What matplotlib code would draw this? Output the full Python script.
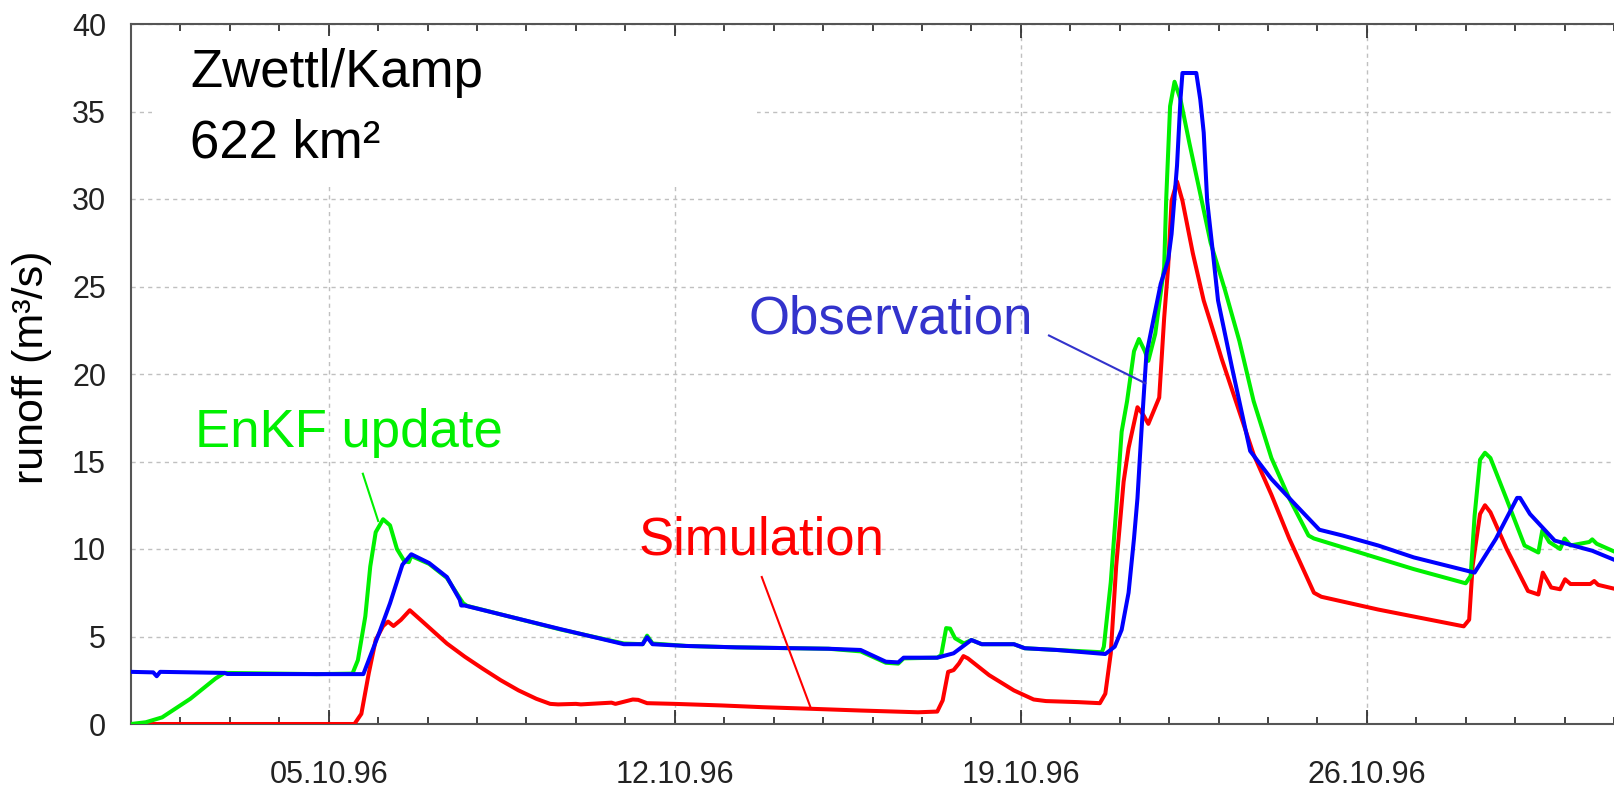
import matplotlib as mpl
import matplotlib.pyplot as plt
from matplotlib.patches import Rectangle
from matplotlib.ticker import FixedLocator, MultipleLocator

mpl.rcParams['font.family'] = ['Liberation Sans', 'DejaVu Sans']

# day of October 1996 (1.0 = 01.10.96 00:00), runoff in m3/s
obs_day = [1.0, 1.45, 1.52, 1.59, 2.89, 2.95, 4.76, 5.70, 6.02, 6.24, 6.49, 6.67, 7.03, 7.39,
           7.65, 7.68, 7.75, 9.69, 10.97, 11.35, 11.44, 11.55, 12.23, 13.24, 15.11, 15.76,
           16.27, 16.52, 16.63, 17.31, 17.64, 18.0, 18.21, 18.86, 19.08, 19.73, 20.71, 20.9,
           21.04, 21.18, 21.29, 21.36, 21.44, 21.54, 21.69, 21.83, 21.98, 22.05, 22.16, 22.23,
           22.27, 22.55, 22.63, 22.7, 22.77, 22.88, 22.99, 23.13, 23.27, 23.42, 23.64, 24.07,
           24.5, 25.04, 25.51, 26.23, 26.95, 28.18, 28.61, 29.04, 29.1, 29.3, 29.8, 30.56, 31.05]
obs_val = [2.98, 2.95, 2.73, 2.98, 2.92, 2.86, 2.85, 2.85, 5.2, 6.9, 9.1, 9.7, 9.2, 8.4,
           7.1, 6.77, 6.77, 5.42, 4.56, 4.56, 4.96, 4.56, 4.46, 4.38, 4.3, 4.23,
           3.56, 3.52, 3.79, 3.79, 4.04, 4.8, 4.56, 4.56, 4.33, 4.23, 4.0, 4.42,
           5.38, 7.5, 10.6, 12.9, 16.7, 21.1, 23.2, 25.15, 26.5, 28.0, 31.9, 35.7,
           37.2, 37.2, 35.7, 33.8, 29.9, 27.1, 24.2, 22.3, 20.4, 18.45, 15.6, 14.0,
           12.7, 11.1, 10.77, 10.2, 9.52, 8.65, 10.58, 12.92, 12.92, 12.0, 10.48, 9.9, 9.33]

enkf_day = [1.0, 1.3, 1.63, 2.2, 2.71, 2.89, 4.76, 5.48, 5.59, 5.74, 5.84, 5.95, 6.10, 6.24,
            6.38, 6.53, 6.62, 6.67, 7.03, 7.39, 7.65, 7.72, 7.8, 9.69, 10.97, 11.35, 11.44,
            11.55, 12.23, 13.24, 15.11, 15.76, 16.27, 16.52, 16.63, 17.31, 17.39, 17.49, 17.57,
            17.67, 17.85, 18.0, 18.21, 18.86, 19.08, 19.73, 20.64, 20.68, 20.82, 20.93, 21.04,
            21.15, 21.29, 21.39, 21.51, 21.58, 21.72, 21.9, 21.94, 22.02, 22.11, 22.23, 22.41,
            22.63, 22.84, 23.13, 23.42, 23.71, 24.07, 24.43, 24.82, 24.93, 26.95, 28.0, 28.1,
            28.18, 28.29, 28.39, 28.5, 28.82, 29.19, 29.47, 29.55, 29.69, 29.91, 30.0, 30.12,
            30.5, 30.56, 30.65, 31.05]
enkf_val = [0.0, 0.1, 0.38, 1.44, 2.6, 2.92, 2.85, 2.88, 3.65, 6.15, 9.0, 10.96, 11.7, 11.35,
            10.0, 9.3, 9.25, 9.6, 9.15, 8.35, 7.2, 6.9, 6.75, 5.4, 4.6, 4.56, 5.05,
            4.6, 4.46, 4.38, 4.3, 4.15, 3.5, 3.45, 3.75, 3.79, 3.94, 5.48, 5.45,
            4.9, 4.6, 4.8, 4.56, 4.56, 4.33, 4.23, 4.1, 4.42, 8.1, 12.3, 16.7,
            18.45, 21.3, 22.0, 21.3, 20.75, 22.3, 26.1, 29.9, 35.3, 36.7, 35.7, 33.2,
            30.3, 27.5, 24.8, 21.9, 18.45, 15.2, 12.9, 10.77, 10.6, 8.85, 8.04, 8.46,
            11.9, 15.1, 15.5, 15.2, 12.9, 10.2, 9.8, 11.06, 10.4, 10.0, 10.6, 10.2,
            10.4, 10.55, 10.3, 9.8]

sim_day = [1.0, 5.52, 5.66, 5.81, 5.95, 6.10, 6.2, 6.31, 6.46, 6.64, 6.89, 7.39, 7.75, 8.11,
           8.48, 8.84, 9.2, 9.48, 9.64, 10.0, 10.1, 10.72, 10.8, 11.15, 11.26, 11.44, 12.0,
           12.95, 13.78, 14.75, 15.76, 16.92, 17.31, 17.42, 17.53, 17.64, 17.75, 17.84, 17.93,
           18.36, 18.86, 19.26, 19.51, 20.16, 20.6, 20.71, 20.82, 20.93, 21.08, 21.18, 21.36,
           21.47, 21.58, 21.69, 21.8, 21.9, 21.98, 22.05, 22.16, 22.27, 22.48, 22.7, 22.91,
           23.06, 23.35, 23.71, 24.07, 24.43, 24.93, 25.08, 26.23, 27.96, 28.07, 28.14, 28.29,
           28.39, 28.5, 28.83, 29.26, 29.47, 29.56, 29.73, 29.91, 30.01, 30.12, 30.52, 30.6,
           30.68, 31.05]
sim_val = [0.0, 0.0, 0.58, 2.9, 4.8, 5.6, 5.85, 5.6, 5.95, 6.5, 5.87, 4.6, 3.85, 3.17,
           2.5, 1.92, 1.44, 1.15, 1.12, 1.15, 1.12, 1.22, 1.15, 1.4, 1.38, 1.19, 1.15,
           1.06, 0.96, 0.87, 0.77, 0.67, 0.71, 1.35, 2.98, 3.08, 3.46, 3.88, 3.75,
           2.79, 1.92, 1.4, 1.31, 1.25, 1.19, 1.73, 4.04, 9.04, 13.85, 15.77, 18.1,
           17.7, 17.15, 17.9, 18.65, 23.2, 26.1, 29.9, 31.0, 29.9, 26.9, 24.2, 22.3,
           20.9, 18.45, 15.4, 13.1, 10.6, 7.5, 7.27, 6.54, 5.58, 5.96, 9.04, 12.0,
           12.5, 12.1, 10.0, 7.6, 7.4, 8.65, 7.8, 7.7, 8.27, 8.0, 8.0, 8.17,
           7.95, 7.7]

date_ticks = [5, 12, 19, 26]
date_labels = ["05.10.96", "12.10.96", "19.10.96", "26.10.96"]

fig = plt.figure(figsize=(16.14, 7.91), dpi=100)
ax = fig.add_axes([131 / 1614, 1 - 724 / 791, 1 - 131 / 1614, 700 / 791])

ax.plot(sim_day, sim_val, color='#ff0000', lw=2.9, zorder=3)
ax.plot(enkf_day, enkf_val, color='#00f000', lw=2.9, zorder=4)
ax.plot(obs_day, obs_val, color='#0000ff', lw=2.9, zorder=5)

ax.set_xlim(1, 31)
ax.set_ylim(0, 40)
ax.xaxis.set_major_locator(FixedLocator(date_ticks))
ax.set_xticklabels(date_labels)
ax.xaxis.set_minor_locator(MultipleLocator(1))
ax.yaxis.set_major_locator(MultipleLocator(5))

ax.set_axisbelow(True)
ax.grid(True, which='major', color='#c0c0c0', linestyle=(0, (3, 3)), linewidth=1)
ax.tick_params(axis='x', which='both', direction='in', top=True, bottom=True,
               labelsize=22, pad=26, colors='#222222')
ax.tick_params(axis='x', which='major', length=10, width=1.2)
ax.tick_params(axis='x', which='minor', length=5, width=1.2)
ax.tick_params(axis='y', length=0, labelsize=22, pad=18, colors='#222222')
for side in ['left', 'bottom', 'top']:
    ax.spines[side].set_color('#555555')
    ax.spines[side].set_linewidth(1.5)
ax.spines['right'].set_visible(False)

ax.set_ylabel("runoff (m³/s)", fontsize=31)
ax.yaxis.set_label_coords(-0.053, 0.51)

# white box behind the station name hides the grid
ax.add_patch(Rectangle((1.43, 30.9), 12.24, 8.4, facecolor='white', edgecolor='none', zorder=1))
ax.text(2.2, 36.4, "Zwettl/Kamp", fontsize=38, color='black', zorder=6)
ax.text(2.2, 32.4, "622 km²", fontsize=38, color='black', zorder=6)

ax.text(2.3, 15.85, "EnKF update", fontsize=38, color='#00f000', zorder=6)
ax.plot([5.69, 6.0], [14.3, 11.6], color='#00f000', lw=1.5, zorder=6)

ax.text(11.27, 9.67, "Simulation", fontsize=38, color='#ff0000', zorder=6)
ax.plot([13.76, 14.74], [8.4, 1.0], color='#ff0000', lw=1.5, zorder=6)

ax.text(13.49, 22.3, "Observation", fontsize=38, color='#3333cc', zorder=6)
ax.plot([19.57, 21.52], [22.2, 19.47], color='#3333cc', lw=1.5, zorder=6)

fig.savefig("out.png")
